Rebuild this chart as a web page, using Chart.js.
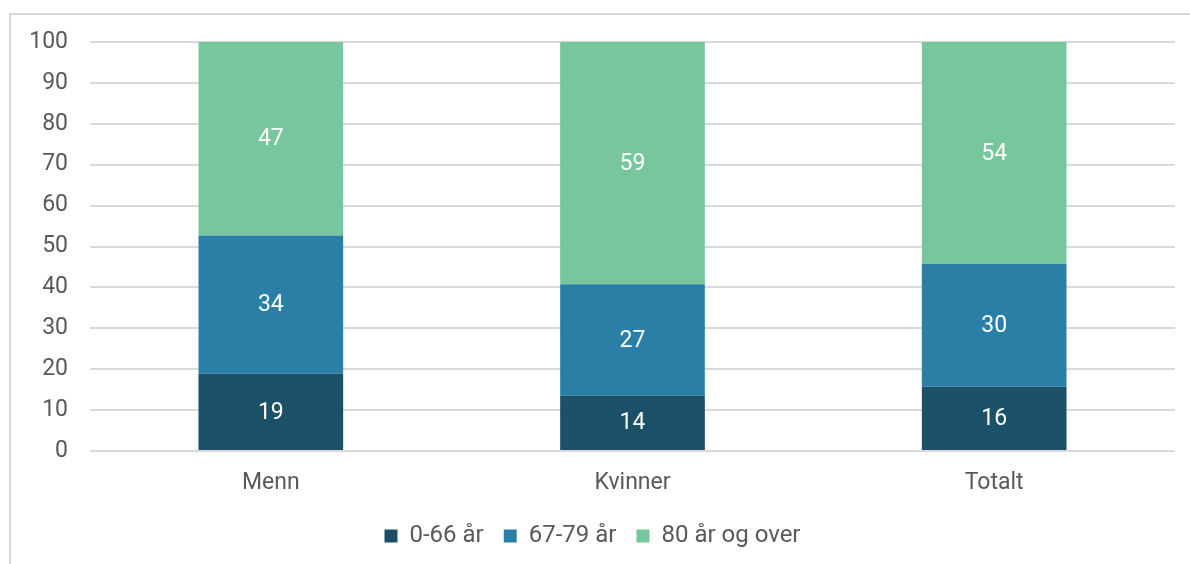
<!DOCTYPE html>
<html>
<head>
<meta charset="utf-8">
<script src="https://cdn.jsdelivr.net/npm/chart.js@4"></script>
<style>
  html, body { margin: 0; padding: 0; background: #fff; }
  #wrap { position: relative; width: 1190px; height: 564px; overflow: hidden; }
  #frame { position: absolute; left: 9px; top: 13px; width: 1200px; height: 600px;
           border: 2px solid #d9d9d9; box-sizing: border-box; }
  canvas { position: absolute; left: 0; top: 0; }
</style>
</head>
<body>
<div id="wrap">
  <div id="frame"></div>
  <canvas id="chart" width="1190" height="564"></canvas>
</div>
<script>
const categories = ["Menn", "Kvinner", "Totalt"];
const seriesNames = ["0-66 år", "67-79 år", "80 år og over"];
const young = [18.9, 13.6, 15.7];
const middle = [33.8, 27.2, 30.1];
const old = [47.3, 59.2, 54.2];
const yTicks = [0, 10, 20, 30, 40, 50, 60, 70, 80, 90, 100];

const colors = ["#1b5069", "#2a7fa6", "#78c69b"];
const textColor = "#595959";
const fontFamily = "Roboto, 'Noto Sans', sans-serif";

// writes the rounded value in the middle of every bar segment
const segmentLabels = {
  id: "segmentLabels",
  afterDatasetsDraw(chart) {
    const ctx = chart.ctx;
    ctx.save();
    ctx.fillStyle = "#ffffff";
    ctx.font = "23px " + fontFamily;
    ctx.textAlign = "center";
    ctx.textBaseline = "middle";
    chart.data.datasets.forEach((ds, i) => {
      chart.getDatasetMeta(i).data.forEach((bar, j) => {
        const mid = (bar.y + bar.base) / 2;
        ctx.fillText(String(Math.round(ds.data[j])), bar.x, mid + 1);
      });
    });
    ctx.restore();
  }
};

new Chart(document.getElementById("chart"), {
  type: "bar",
  data: {
    labels: categories,
    datasets: [
      { label: seriesNames[0], data: young, backgroundColor: colors[0] },
      { label: seriesNames[1], data: middle, backgroundColor: colors[1] },
      { label: seriesNames[2], data: old, backgroundColor: colors[2] }
    ]
  },
  options: {
    responsive: false,
    animation: false,
    layout: { padding: { left: 10, right: 15, top: 42, bottom: 6 } },
    datasets: { bar: { categoryPercentage: 1, barPercentage: 0.4 } },
    scales: {
      x: {
        stacked: true,
        grid: { display: false },
        border: { display: false },
        ticks: { color: textColor, font: { family: fontFamily, size: 23 }, padding: 10 },
        afterFit: (s) => { s.height = 53; }
      },
      y: {
        stacked: true,
        min: 0,
        max: 100,
        afterBuildTicks: (s) => { s.ticks = yTicks.map((v) => ({ value: v })); },
        grid: { color: "#d9d9d9", lineWidth: 2, drawTicks: false },
        border: { display: false },
        ticks: { color: textColor, font: { family: fontFamily, size: 23 }, padding: 22 },
        afterFit: (s) => { s.width = 80; }
      }
    },
    plugins: {
      legend: {
        position: "bottom",
        labels: {
          color: textColor,
          font: { family: fontFamily, size: 24 },
          boxWidth: 13,
          boxHeight: 13,
          padding: 20
        }
      },
      tooltip: { enabled: false }
    }
  },
  plugins: [segmentLabels]
});
</script>
</body>
</html>
